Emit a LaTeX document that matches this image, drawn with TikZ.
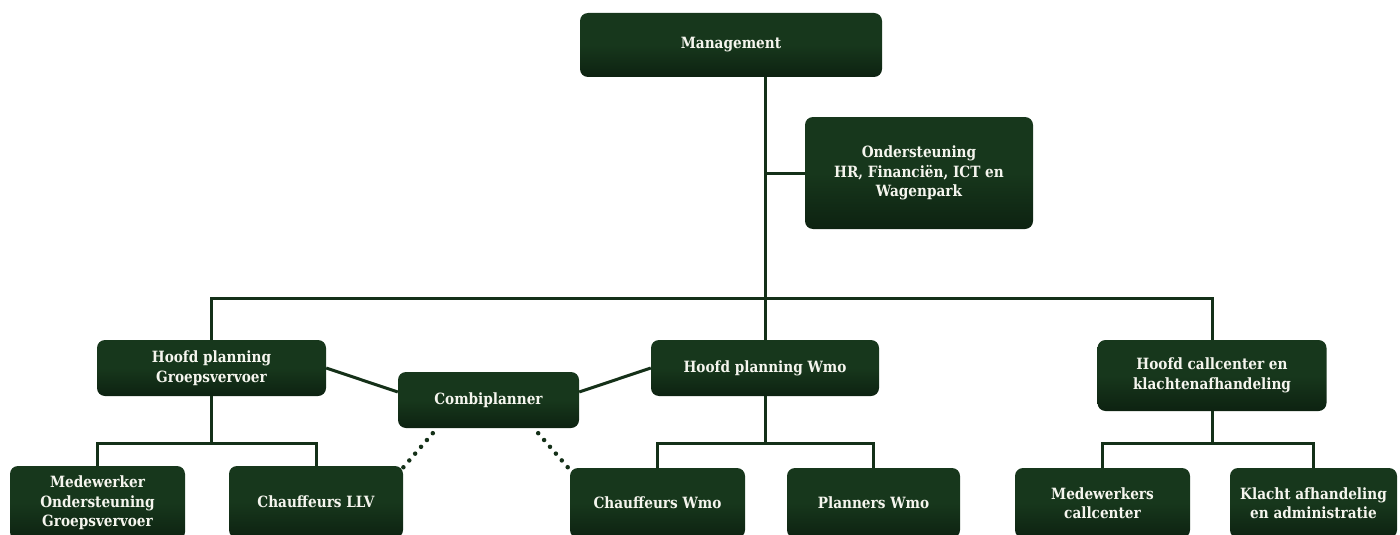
\documentclass[tikz,border=0pt]{standalone}
\usepackage{fontspec}
\setmainfont{DejaVu Serif}[FakeStretch=0.88]
\usetikzlibrary{calc}
\definecolor{boxgreen}{RGB}{23,55,28}
\definecolor{boxdark}{RGB}{13,34,17}
\definecolor{linegreen}{RGB}{20,48,24}
\definecolor{boxtext}{RGB}{245,245,238}
\begin{document}
\begin{tikzpicture}[x=1pt,y=-1pt,
  orgbox/.style={rectangle, rounded corners=8pt, top color=boxgreen, bottom color=boxdark,
    middle color=boxgreen, draw=none, text=boxtext, align=center, inner sep=0pt,
    font=\bfseries\fontsize{15.5}{19.5}\selectfont},
  link/.style={draw=linegreen, line width=3pt},
  dotlink/.style={draw=linegreen, line width=4.5pt, line cap=round, dash pattern=on 0pt off 9pt}]
\useasboundingbox (0,0) rectangle (1400,535);
\clip (0,0) rectangle (1400,535);
% boxes
\node[orgbox, minimum width=302, minimum height=64] (mgmt) at (731,45) {Management};
\node[orgbox, minimum width=228, minimum height=112] (ond) at (919,173) {Ondersteuning\\HR, Financiën, ICT en\\Wagenpark};
\node[orgbox, minimum width=229, minimum height=56] (hpg) at (211.5,368) {Hoofd planning\\Groepsvervoer};
\node[orgbox, minimum width=228, minimum height=56] (hpw) at (765,368) {Hoofd planning Wmo};
\node[orgbox, minimum width=229, minimum height=71] (hcc) at (1212,375.5) {Hoofd callcenter en\\klachtenafhandeling};
\node[orgbox, minimum width=181, minimum height=56] (comb) at (488.5,400) {Combiplanner};
\node[orgbox, minimum width=175, minimum height=74] (mog) at (97.5,503) {Medewerker\\Ondersteuning\\Groepsvervoer};
\node[orgbox, minimum width=174, minimum height=72] (llv) at (316,502) {Chauffeurs LLV};
\node[orgbox, minimum width=175, minimum height=70] (cwmo) at (657.5,503) {Chauffeurs Wmo};
\node[orgbox, minimum width=173, minimum height=70] (pwmo) at (873.5,503) {Planners Wmo};
\node[orgbox, minimum width=175, minimum height=70] (mcc) at (1102.5,503) {Medewerkers\\callcenter};
\node[orgbox, minimum width=167, minimum height=70] (kla) at (1313.5,503) {Klacht afhandeling\\en administratie};
% junction coordinates
\coordinate (bus) at (765,298);
\coordinate (wbus) at (765,443);
\coordinate (gbus) at (hpg.south |- wbus);
\coordinate (cbus) at (hcc.south |- wbus);
% connectors
\draw[link] (mgmt.south -| hpw) -- (hpw.north);
\draw[link] (ond.west) -- (ond.west -| hpw);
\draw[link] (hpg.north) |- (bus) -| (hcc.north);
\draw[link] (hpg.south) -- (gbus);
\draw[link] (mog.north) |- (gbus) -| (llv.north);
\draw[link] (hpw.south) -- (wbus);
\draw[link] (cwmo.north) |- (wbus) -| (pwmo.north);
\draw[link] (hcc.south) -- (cbus);
\draw[link] (mcc.north) |- (cbus) -| (kla.north);
\draw[link] (hpg.east) -- ($(comb.west)+(0,-8)$);
\draw[link] ($(comb.east)+(0,-8)$) -- (hpw.west);
\draw[dotlink] ($(comb.south west)+(35,5)$) -- ($(llv.north east)+(-2,4)$);
\draw[dotlink] ($(comb.south east)+(-41,5)$) -- ($(cwmo.north west)+(1,3)$);
\end{tikzpicture}
\end{document}
